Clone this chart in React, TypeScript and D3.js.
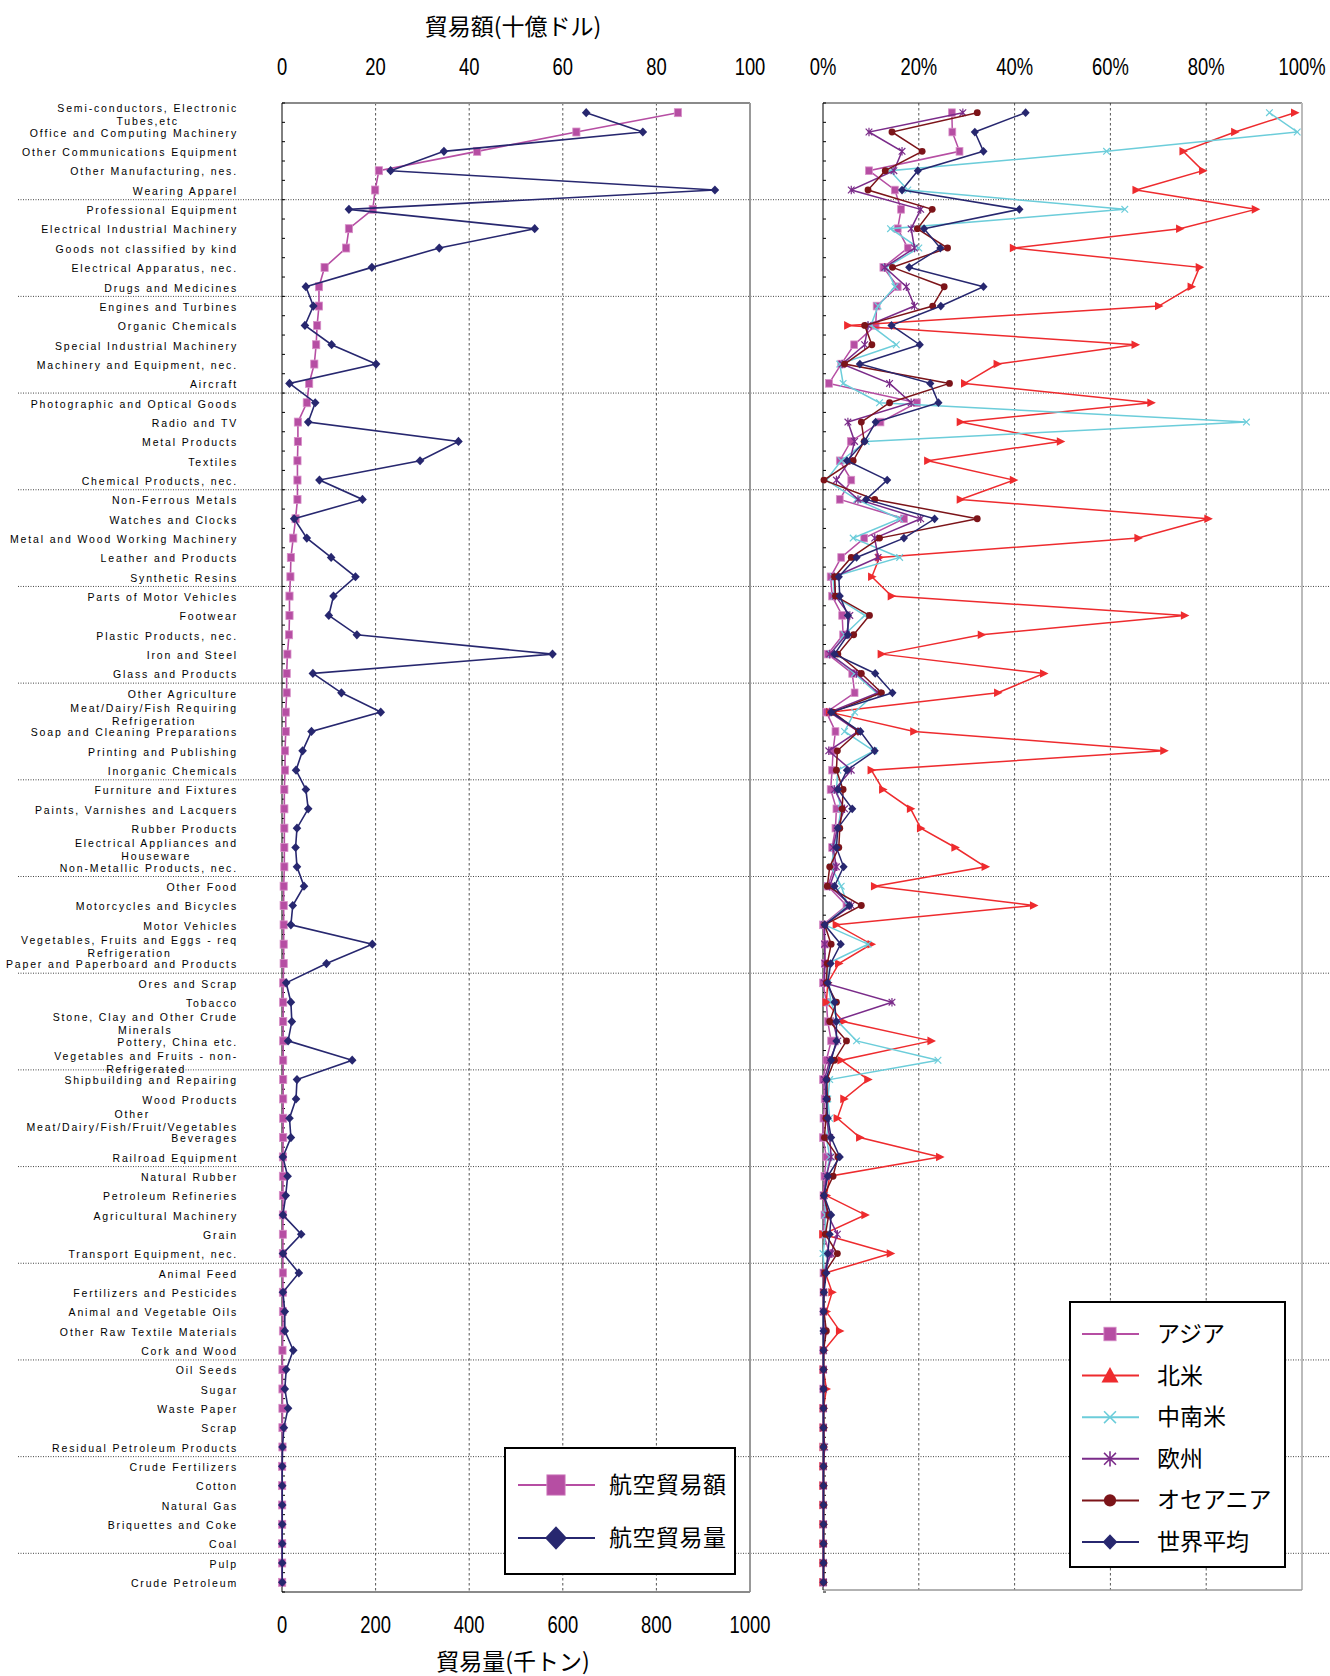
import React from 'react';
import * as d3 from 'd3';

const categories: string[] = [
  'Semi-conductors, Electronic\nTubes,etc', 'Office and Computing Machinery', 'Other Communications Equipment', 'Other Manufacturing, nes.', 'Wearing Apparel',
  'Professional Equipment', 'Electrical Industrial Machinery', 'Goods not classified by kind', 'Electrical Apparatus, nec.', 'Drugs and Medicines',
  'Engines and Turbines', 'Organic Chemicals', 'Special Industrial Machinery', 'Machinery and Equipment, nec.', 'Aircraft',
  'Photographic and Optical Goods', 'Radio and TV', 'Metal Products', 'Textiles', 'Chemical Products, nec.',
  'Non-Ferrous Metals', 'Watches and Clocks', 'Metal and Wood Working Machinery', 'Leather and Products', 'Synthetic Resins',
  'Parts of Motor Vehicles', 'Footwear', 'Plastic Products, nec.', 'Iron and Steel', 'Glass and Products',
  'Other Agriculture', 'Meat/Dairy/Fish Requiring\nRefrigeration', 'Soap and Cleaning Preparations', 'Printing and Publishing', 'Inorganic Chemicals',
  'Furniture and Fixtures', 'Paints, Varnishes and Lacquers', 'Rubber Products', 'Electrical Appliances and\nHouseware', 'Non-Metallic Products, nec.',
  'Other Food', 'Motorcycles and Bicycles', 'Motor Vehicles', 'Vegetables, Fruits and Eggs - req\nRefrigeration', 'Paper and Paperboard and Products',
  'Ores and Scrap', 'Tobacco', 'Stone, Clay and Other Crude\nMinerals', 'Pottery, China etc.', 'Vegetables and Fruits - non-\nRefrigerated',
  'Shipbuilding and Repairing', 'Wood Products', 'Other\nMeat/Dairy/Fish/Fruit/Vegetables', 'Beverages', 'Railroad Equipment',
  'Natural Rubber', 'Petroleum Refineries', 'Agricultural Machinery', 'Grain', 'Transport Equipment, nec.',
  'Animal Feed', 'Fertilizers and Pesticides', 'Animal and Vegetable Oils', 'Other Raw Textile Materials', 'Cork and Wood',
  'Oil Seeds', 'Sugar', 'Waste Paper', 'Scrap', 'Residual Petroleum Products',
  'Crude Fertilizers', 'Cotton', 'Natural Gas', 'Briquettes and Coke', 'Coal',
  'Pulp', 'Crude Petroleum',
];

// 航空貿易額 (十億ドル)
const tradeValue: number[] = [
  84.6, 62.9, 41.7, 20.7, 19.9, 19.4, 14.3, 13.7, 9.1, 7.9, 7.9, 7.5, 7.3, 6.9, 5.8, 5.3, 3.4, 3.4, 3.3, 3.3, 3.3,
  2.9, 2.4, 1.9, 1.8, 1.6, 1.6, 1.5, 1.15, 1.0, 1.0, 0.8, 0.8, 0.65, 0.65, 0.5, 0.5, 0.5, 0.5, 0.5, 0.36, 0.36, 0.36, 0.36, 0.36,
  0.25, 0.25, 0.25, 0.25, 0.25, 0.25, 0.25, 0.25, 0.25, 0.2, 0.2, 0.2, 0.2, 0.2, 0.2, 0.2, 0.2, 0.2, 0.2, 0.1,
  0.1, 0.1, 0.1, 0.1, 0.1, 0.03, 0.03, 0.03, 0.03, 0.03, 0.03, 0.03,
];
// 航空貿易量 (千トン)
const tradeVolume: number[] = [
  650, 771, 346, 232, 925, 143, 540, 336, 192, 51, 67, 49, 106, 201, 16, 71, 56, 377, 295, 80, 172,
  26, 53, 105, 157, 110, 100, 160, 578, 66, 127, 211, 63, 44, 30, 51, 56, 32, 29, 32, 47, 23, 19, 193, 95,
  9, 19, 21, 13, 150, 32, 30, 16, 19, 2, 12, 8, 2, 41, 2, 36, 2, 6, 6, 24, 9, 6, 13, 4, 1,
  0.5, 0.5, 0.5, 0.5, 0.5, 0.5, 0.5,
];

// shares (%)
const asia: number[] = [
  26.9, 27, 28.5, 9.6, 15, 16.3, 15.6, 17.7, 12.6, 15.6, 11.2, 11, 6.5, 3.8, 1.25, 19.6, 12, 5.8, 3.5, 5.9, 3.5,
  16.9, 8.6, 3.8, 1.6, 1.9, 4, 4.2, 1, 6.1, 6.6, 0.7, 2.6, 2.1, 1.9, 1.6, 2.8, 2.6, 1.9, 2.4, 1, 4.9, 0, 0.4, 0.4,
  0, 0.7, 1, 1.7, 0.7, 0, 0.35, 0.1, 0, 0.7, 0.3, 0.1, 0.3, 0.1, 1.4, 0.1, 0.1, 0.1, 0.3, 0.05,
  0.05, 0.05, 0.05, 0.05, 0.05, 0.05, 0.05, 0.05, 0.05, 0.05, 0.05, 0.05,
];
const northAmerica: number[] = [
  98.5, 86, 75.2, 79.3, 65.4, 90.3, 74.5, 39.8, 78.6, 76.9, 70.1, 5.2, 65.2, 36.4, 29.6, 68.5, 28.7, 49.6, 21.9, 39.8, 28.7,
  80.4, 65.8, 11.8, 10.2, 14.3, 75.5, 33.1, 12.2, 46.1, 36.5, 1.4, 19, 71.2, 10.1, 12.5, 18.3, 20.4, 27.6, 33.9, 10.8, 44, 2.8, 10.1, 3.3,
  1, 0.7, 4.2, 22.6, 3.8, 9.4, 4.4, 3, 7.7, 24.4, 1.4, 0.7, 8.8, 0, 14.1, 0.5, 1.9, 0.7, 3.5, 0.2,
  0.1, 0.7, 0.1, 0.1, 0.1, 0.05, 0.05, 0.05, 0.05, 0.05, 0.05, 0.05,
];
const latinAmerica: number[] = [
  93.2, 99, 59.2, 14, 17.7, 63, 14.1, 20, 13.2, 15, 11.5, 10, 15.3, 3.5, 4.2, 11.8, 88.4, 9, 3.8, 0.7, 7,
  16, 6.3, 16, 2.1, 2.4, 8.7, 4.5, 1.7, 6.6, 11.1, 6.6, 4.5, 10.6, 3.1, 2.8, 3.8, 3.1, 2.4, 1.7, 3.8, 5.2, 0.35, 9.4, 1,
  1, 1.7, 3.1, 7, 24, 1.4, 1, 1.4, 0.7, 1.4, 0.7, 0.3, 0.5, 0.5, 0, 0.3, 0.2, 0.1, 0.1, 0.1,
  0.1, 0.1, 0.1, 0.1, 0.1, 0.1, 0.1, 0.1, 0.1, 0.1, 0.1, 0.1,
];
const europe: number[] = [
  29.2, 9.6, 16.5, 14.8, 5.9, 20.4, 18.4, 19.1, 12.9, 17.4, 19.1, 9.4, 8.7, 4, 13.9, 18.4, 5.2, 6.6, 5.6, 2.8, 7.3,
  20.4, 10.8, 11.5, 2.4, 2.6, 5.6, 4.9, 1.4, 7, 11.5, 1.4, 7.3, 1.2, 5.9, 2.4, 4.5, 3, 2.1, 2.8, 1.4, 5.9, 0.35, 0.35, 0.4,
  0.3, 14.4, 2.1, 3.1, 1.4, 0.3, 0.7, 0.7, 1.4, 1.7, 0.7, 0.2, 1, 3, 1.7, 0.2, 0.1, 0.1, 0.1, 0.1,
  0.1, 0.1, 0.1, 0.1, 0.35, 0.1, 0.1, 0.1, 0.1, 0.1, 0.1, 0.1,
];
const oceania: number[] = [
  32.2, 14.4, 20.7, 13, 9.4, 22.8, 19.7, 26, 14.5, 25.3, 22.9, 8.7, 10.2, 4.5, 26.4, 13.9, 8, 8.6, 6.3, 0.2, 10.8,
  32.2, 11.8, 5.9, 2.4, 2.6, 9.7, 6.4, 3.1, 8, 12.2, 2.1, 7.4, 3, 2.8, 4.2, 4, 3.5, 3.3, 1.4, 0.9, 8, 0.35, 1.7, 0.9,
  0.7, 2.8, 1.4, 4.9, 2.4, 0.8, 0.9, 0.6, 0.3, 3.1, 2.1, 0.2, 1.2, 0.5, 3, 0.35, 0.15, 0.2, 0.7, 0.1,
  0.15, 0.15, 0.15, 0.15, 0.15, 0.15, 0.15, 0.15, 0.15, 0.15, 0.15, 0.15,
];
const worldAverage: number[] = [
  42.3, 31.7, 33.5, 19.8, 16.5, 41, 21.1, 24.5, 18, 33.5, 24.6, 14.3, 20.2, 7.7, 22.4, 24.1, 11, 8.7, 5, 13.4, 9,
  23.3, 16.9, 7, 3.3, 3.5, 5.2, 5.2, 2.4, 10.9, 14.5, 1.7, 7.8, 10.8, 5, 3.1, 6.1, 3.1, 2.8, 4.3, 2.4, 5.5, 0.35, 3.7, 1.6,
  1, 2.4, 2.8, 2.8, 1.7, 0.7, 0.7, 1, 1.7, 3.5, 1, 0.2, 1.7, 1.4, 1, 0.7, 0.2, 0.1, 0.1, 0.1,
  0.1, 0.1, 0.1, 0.1, 0.1, 0.1, 0.1, 0.1, 0.1, 0.1, 0.1, 0.1,
];

const valueTicks = [0, 20, 40, 60, 80, 100];
const volumeTicks = [0, 200, 400, 600, 800, 1000];
const shareTicks = [0, 20, 40, 60, 80, 100];

const W = 1330;
const H = 1676;
const LX0 = 282, LX1 = 750, RX0 = 823, RX1 = 1302, Y0 = 103, Y1 = 1592;

const C_VALUE = '#b64ea3';
const C_VOL = '#27276f';

const shareSeries = [
  { name: 'アジア', data: asia, color: '#b64ea3', marker: 'square' },
  { name: '北米', data: northAmerica, color: '#ee2b2e', marker: 'tri' },
  { name: '中南米', data: latinAmerica, color: '#6ccdda', marker: 'x' },
  { name: '欧州', data: europe, color: '#7a2b89', marker: 'star' },
  { name: 'オセアニア', data: oceania, color: '#7c1419', marker: 'circle' },
  { name: '世界平均', data: worldAverage, color: '#27276f', marker: 'diamond' },
];

const LABEL_FONT = '10.5px "Liberation Sans", Arial, sans-serif';
const LABEL_LS = 1.85;
const CJK = '"Noto Sans CJK JP", "Noto Sans CJK SC", sans-serif';

let ctx: CanvasRenderingContext2D | null = null;
function measure(t: string): number {
  if (!ctx) {
    const c = document.createElement('canvas');
    ctx = c.getContext('2d');
  }
  if (!ctx) return t.length * 7;
  ctx.font = LABEL_FONT;
  return ctx.measureText(t).width + LABEL_LS * t.length;
}

function Marker({ type, x, y, color, s = 1, up = false }: any) {
  switch (type) {
    case 'square':
      return <rect x={x - 3.6 * s} y={y - 4 * s} width={7.2 * s} height={8 * s} fill={color} stroke="#d890c8" strokeWidth={0.8} />;
    case 'diamond':
      return <path d={`M${x},${y - 4.6 * s}L${x + 4.3 * s},${y}L${x},${y + 4.6 * s}L${x - 4.3 * s},${y}Z`} fill={color} />;
    case 'tri':
      return up
        ? <path d={`M${x},${y - 5 * s}L${x + 5 * s},${y + 4 * s}L${x - 5 * s},${y + 4 * s}Z`} fill={color} />
        : <path d={`M${x + 5 * s},${y}L${x - 4 * s},${y - 4.5 * s}L${x - 4 * s},${y + 4.5 * s}Z`} fill={color} />;
    case 'x':
      return <path d={`M${x - 3.5 * s},${y - 3.5 * s}L${x + 3.5 * s},${y + 3.5 * s}M${x - 3.5 * s},${y + 3.5 * s}L${x + 3.5 * s},${y - 3.5 * s}`} stroke={color} strokeWidth={1.2 * Math.sqrt(s)} fill="none" />;
    case 'star':
      return <path d={`M${x - 3.5 * s},${y - 3.5 * s}L${x + 3.5 * s},${y + 3.5 * s}M${x - 3.5 * s},${y + 3.5 * s}L${x + 3.5 * s},${y - 3.5 * s}M${x},${y - 4.5 * s}L${x},${y + 4.5 * s}`} stroke={color} strokeWidth={1.2 * Math.sqrt(s)} fill="none" />;
    case 'circle':
      return <circle cx={x} cy={y} r={3.6 * s} fill={color} />;
    default:
      return null;
  }
}

export default function App() {
  const idx = d3.range(categories.length);
  const y = d3.scaleBand<number>().domain(idx).range([Y0, Y1]).padding(0);
  const bw = y.bandwidth();
  const yc = (i: number) => (y(i) as number) + bw / 2;
  const xVal = d3.scaleLinear().domain([0, 100]).range([LX0, LX1]);
  const xVol = d3.scaleLinear().domain([0, 1000]).range([LX0, LX1]);
  const xPct = d3.scaleLinear().domain([0, 100]).range([RX0, RX1]);

  const lineVal = d3.line<number>().x((d) => xVal(d)).y((_, i) => yc(i));
  const lineVol = d3.line<number>().x((d) => xVol(d)).y((_, i) => yc(i));
  const linePct = d3.line<number>().x((d) => xPct(d)).y((_, i) => yc(i));

  const boundaries = d3.range(categories.length + 1).map((i) => Y0 + i * bw);
  const separators = d3.range(5, categories.length, 5).map((i) => Y0 + i * bw);

  const tickLabel = (x: number, yy: number, t: string, key: string) => (
    <text key={key} transform={`translate(${x},${yy}) scale(0.8,1)`} textAnchor="middle"
      fontFamily='"Liberation Sans", Arial, sans-serif' fontSize={23} fill="#000">{t}</text>
  );

  const leftLegend = [
    { name: '航空貿易額', color: C_VALUE, marker: 'square', yy: 1485 },
    { name: '航空貿易量', color: C_VOL, marker: 'diamond', yy: 1538 },
  ];

  return (
    <svg width={W} height={H} style={{ position: 'absolute', left: 0, top: 0, background: '#fff' }}
      xmlns="http://www.w3.org/2000/svg">
      <rect x={0} y={0} width={W} height={H} fill="#fff" />

      {/* Titles */}
      <text x={513} y={35} textAnchor="middle" fontFamily={CJK} fontSize={23} fill="#000">貿易額(十億ドル)</text>
      <text x={513} y={1670} textAnchor="middle" fontFamily={CJK} fontSize={23} fill="#000">貿易量(千トン)</text>

      {/* tick labels */}
      {valueTicks.map((t) => tickLabel(xVal(t), 75, String(t), 'vt' + t))}
      {shareTicks.map((t) => tickLabel(xPct(t), 75, t + '%', 'st' + t))}
      {volumeTicks.map((t) => tickLabel(xVol(t), 1633, String(t), 'vb' + t))}

      {/* vertical gridlines */}
      {valueTicks.slice(1, -1).map((t) => (
        <line key={'gl' + t} x1={xVal(t)} x2={xVal(t)} y1={Y0} y2={Y1} stroke="#555" strokeWidth={1} strokeDasharray="2.5,2.5" />
      ))}
      {shareTicks.slice(1, -1).map((t) => (
        <line key={'gr' + t} x1={xPct(t)} x2={xPct(t)} y1={Y0} y2={Y1 - 2} stroke="#555" strokeWidth={1} strokeDasharray="2.5,2.5" />
      ))}

      {/* horizontal group separators */}
      {separators.map((yy, i) => (
        <line key={'sep' + i} x1={18} x2={W} y1={yy} y2={yy} stroke="#444" strokeWidth={1} strokeDasharray="1,1.5" />
      ))}

      {/* frames */}
      <line x1={LX0} x2={LX1} y1={Y0} y2={Y0} stroke="#8a8a8a" strokeWidth={2} />
      <line x1={LX1} x2={LX1} y1={Y0} y2={Y1} stroke="#999" strokeWidth={2} />
      <line x1={LX0} x2={LX1} y1={Y1} y2={Y1} stroke="#8a8a8a" strokeWidth={2} />
      <line x1={LX0} x2={LX0} y1={Y0} y2={Y1} stroke="#000" strokeWidth={1} />
      <line x1={RX0} x2={RX1} y1={Y0} y2={Y0} stroke="#333" strokeWidth={1} />
      <line x1={RX1} x2={RX1} y1={Y0} y2={Y1 - 2} stroke="#bbb" strokeWidth={2} />
      <line x1={RX0} x2={RX1} y1={Y1 - 2} y2={Y1 - 2} stroke="#999" strokeWidth={1.5} />
      <line x1={RX0} x2={RX0} y1={Y0} y2={Y1 - 2} stroke="#000" strokeWidth={1} />

      {/* minor ticks */}
      {boundaries.map((yy, i) => (
        <g key={'tk' + i}>
          <line x1={LX0} x2={LX0 + 3} y1={yy} y2={yy} stroke="#000" strokeWidth={1} />
          <line x1={RX0} x2={RX0 + 3} y1={yy} y2={yy} stroke="#000" strokeWidth={1} />
        </g>
      ))}

      {/* category labels */}
      {categories.map((c, i) => {
        const parts = c.split('\n');
        const cy = yc(i);
        if (parts.length === 1) {
          return (
            <text key={'c' + i} x={238} y={cy + 4.8} textAnchor="end" style={{ font: LABEL_FONT, letterSpacing: LABEL_LS + 'px' }} fill="#000">{c}</text>
          );
        }
        const widths = parts.map(measure);
        const maxW = Math.max(...widths);
        const center = 238 - maxW / 2;
        return (
          <g key={'c' + i}>
            {parts.map((p, j) => (
              <text key={j} x={center + widths[j] / 2} y={cy + (j === 0 ? -0.5 : 12.5)} textAnchor="end"
                style={{ font: LABEL_FONT, letterSpacing: LABEL_LS + 'px' }} fill="#000">{p}</text>
            ))}
          </g>
        );
      })}

      {/* left plot series */}
      <path d={lineVal(tradeValue) || ''} fill="none" stroke={C_VALUE} strokeWidth={1.6} />
      {tradeValue.map((v, i) => <Marker key={'mv' + i} type="square" x={xVal(v)} y={yc(i)} color={C_VALUE} />)}
      <path d={lineVol(tradeVolume) || ''} fill="none" stroke={C_VOL} strokeWidth={1.6} />
      {tradeVolume.map((v, i) => <Marker key={'mw' + i} type="diamond" x={xVol(v)} y={yc(i)} color={C_VOL} />)}

      {/* right plot series */}
      {shareSeries.map((s) => (
        <g key={s.name}>
          <path d={linePct(s.data) || ''} fill="none" stroke={s.color} strokeWidth={1.5} />
          {s.data.map((v, i) => <Marker key={i} type={s.marker} x={xPct(v)} y={yc(i)} color={s.color} s={0.95} />)}
        </g>
      ))}

      {/* left legend */}
      <g>
        <rect x={505} y={1448} width={230} height={126} fill="#fff" stroke="#000" strokeWidth={2} />
        {leftLegend.map((it) => (
          <g key={it.name}>
            <line x1={518} x2={595} y1={it.yy} y2={it.yy} stroke={it.color} strokeWidth={2} />
            <Marker type={it.marker} x={556} y={it.yy} color={it.color} s={2.55} />
            <text x={609} y={it.yy + 8} fontFamily={CJK} fontSize={23} letterSpacing={0.5} fill="#000">{it.name}</text>
          </g>
        ))}
      </g>

      {/* right legend */}
      <g>
        <rect x={1070} y={1302} width={215} height={265} fill="#fff" stroke="#000" strokeWidth={2} />
        {shareSeries.map((s, k) => {
          const yy = 1334 + k * 41.6;
          return (
            <g key={'lg' + s.name}>
              <line x1={1082} x2={1139} y1={yy} y2={yy} stroke={s.color} strokeWidth={2} />
              <Marker type={s.marker} x={1110} y={yy} color={s.color} s={1.7} up={true} />
              <text x={1157} y={yy + 8} fontFamily={CJK} fontSize={23} fill="#000">{s.name}</text>
            </g>
          );
        })}
      </g>
    </svg>
  );
}
